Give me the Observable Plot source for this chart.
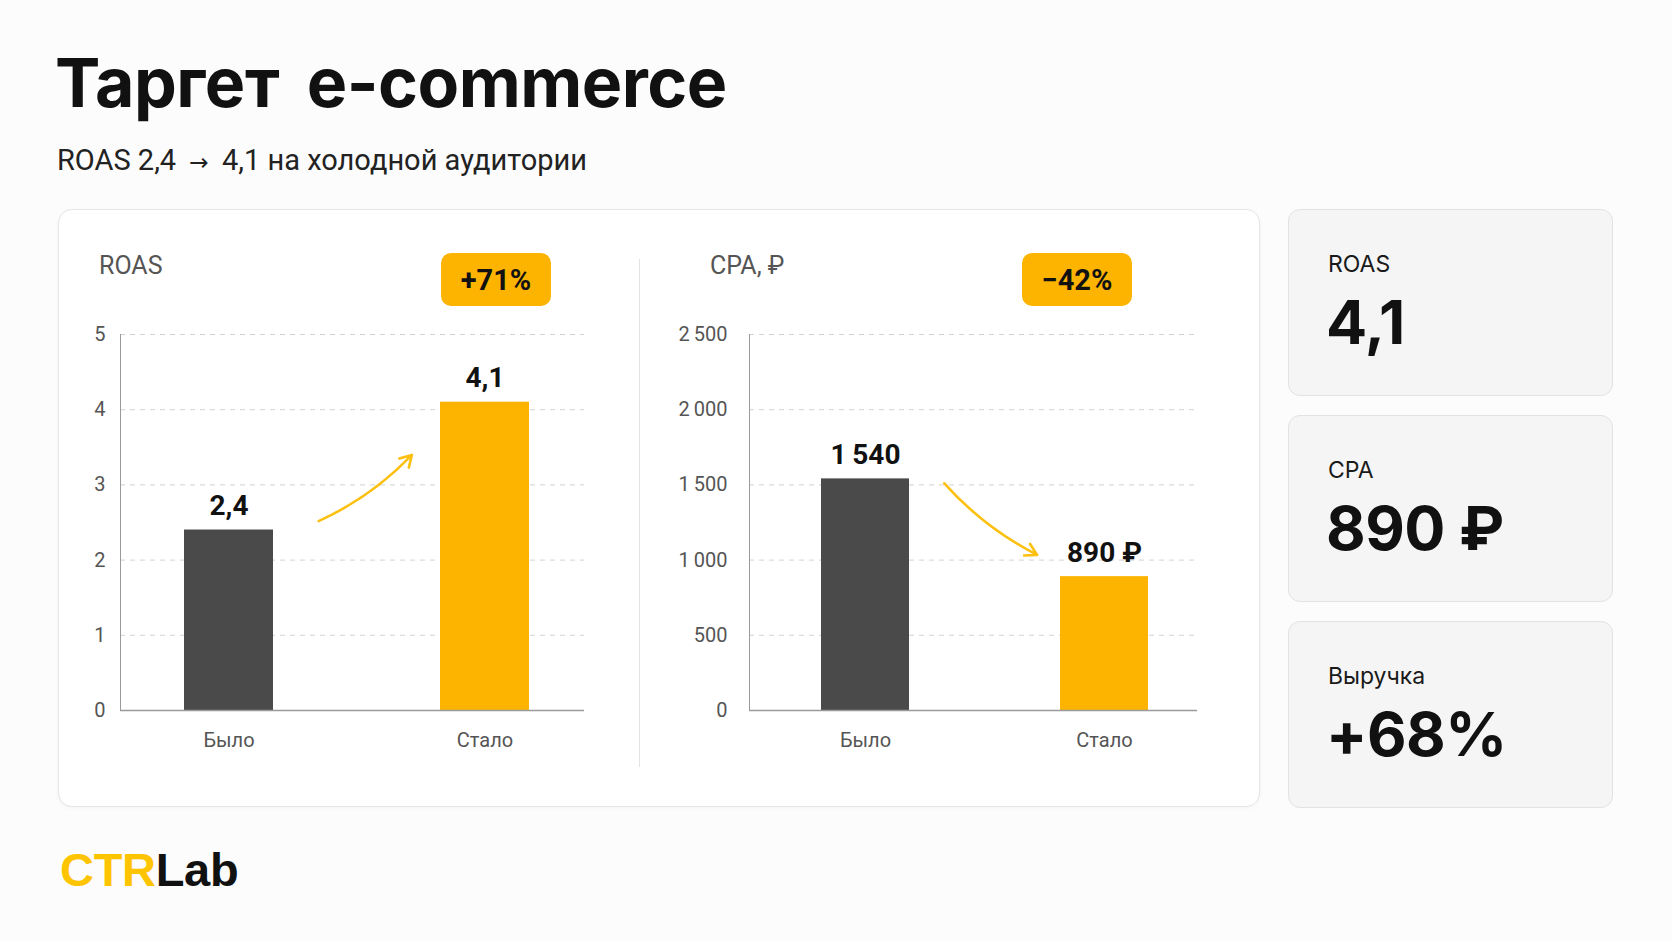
<!DOCTYPE html>
<html><head><meta charset="utf-8">
<script src="https://cdn.jsdelivr.net/npm/d3@7"></script>
<script src="https://cdn.jsdelivr.net/npm/@observablehq/plot@0.6"></script>
<style>
body{margin:0;background:#fcfcfc;width:1672px;height:941px;position:relative;overflow:hidden;font-family:Roboto,sans-serif}
.abs{position:absolute;line-height:1;white-space:nowrap}
.panel{position:absolute;left:58px;top:209px;width:1200px;height:596px;background:#fff;border:1px solid #e6e6e6;border-radius:14px;box-shadow:0 1px 4px rgba(0,0,0,0.04)}
.card{position:absolute;left:1288px;width:323px;height:185px;background:#f5f5f5;border:1px solid #e2e2e2;border-radius:12px}
.card .lab{position:absolute;left:39px;top:43px;font:400 23px Inter;color:#1a1a1a;line-height:1}
.card .val{position:absolute;left:37px;top:82px;font:700 61px Inter;color:#111;line-height:1;letter-spacing:-0.5px}
.badge{position:absolute;top:253px;width:110px;height:53px;background:#FDB400;border-radius:10px;font:700 29px Roboto;color:#111;display:flex;align-items:center;justify-content:center}
.ctitle{position:absolute;top:253px;font:400 25px Roboto;color:#555;line-height:1}
.chart{position:absolute;top:300px}
.arr{font-family:'DejaVu Sans',sans-serif;font-size:0.8em;margin:0 6px}
</style></head><body>
<div class="abs" id="title" style="left:55px;top:41px;font:700 68px Inter;color:#111;letter-spacing:-0.5px;word-spacing:12px"></div>
<div class="abs" id="subtitle" style="left:57px;top:143px;font:400 29px Roboto;color:#222"></div>
<div class="panel"></div>
<div class="abs" style="left:639px;top:259px;width:1px;height:508px;background:#e3e3e3"></div>
<div class="ctitle" id="t1" style="left:99px"></div>
<div class="ctitle" id="t2" style="left:710px"></div>
<div class="badge" id="b1" style="left:441px"></div>
<div class="badge" id="b2" style="left:1022px"></div>
<div class="chart" id="c1" style="left:60px"></div>
<div class="chart" id="c2" style="left:640px"></div>
<div id="cards"></div>
<div class="abs" id="logo" style="left:60px;top:842px;font:700 47px 'Liberation Sans',Arial,sans-serif;letter-spacing:-0.3px"><span style="color:#FFC400">CTR</span><span style="color:#111">Lab</span></div>
<script>
const titleText = "Таргет e-commerce";
const subtitleParts = ["ROAS 2,4", "→", "4,1 на холодной аудитории"];
const chartTitles = ["ROAS", "CPA, ₽"];
const badgeTexts = ["+71%", "−42%"];
const categories = ["Было", "Стало"];
const roasValues = [2.4, 4.1];
const cpaValues = [1540, 890];
const cpaSuffix = ["", " ₽"];
const roasTicks = [0, 1, 2, 3, 4, 5];
const cpaTicks = [0, 500, 1000, 1500, 2000, 2500];
const barColors = ["#4a4a4a", "#FDB400"];
const roasArrow = [{from: "Было", to: "Стало", y1: 2.19, y2: 5.14}];
const cpaArrow = [{from: "Было", to: "Стало", y1: 2660, y2: 866}];
const kpiLabels = ["ROAS", "CPA", "Выручка"];
const kpiValues = ["4,1", "890 ₽", "+68%"];

document.getElementById("title").textContent = titleText;
const sub = document.getElementById("subtitle");
subtitleParts.forEach((p, i) => {
  const s = document.createElement("span");
  if (i === 1) s.className = "arr";
  s.textContent = (i === 0 ? p + " " : i === 2 ? " " + p : p);
  sub.appendChild(s);
});
document.getElementById("t1").textContent = chartTitles[0];
document.getElementById("t2").textContent = chartTitles[1];
document.getElementById("b1").textContent = badgeTexts[0];
document.getElementById("b2").textContent = badgeTexts[1];

const cardsEl = document.getElementById("cards");
const cardTops = [209, 415, 621];
kpiLabels.forEach((l, i) => {
  const c = document.createElement("div");
  c.className = "card";
  c.style.top = cardTops[i] + "px";
  c.innerHTML = `<div class="lab"></div><div class="val"></div>`;
  c.querySelector(".lab").textContent = l;
  c.querySelector(".val").textContent = kpiValues[i];
  cardsEl.appendChild(c);
});

const ru = d3.formatLocale({decimal: ",", thousands: "\u2009", grouping: [3], currency: ["", " ₽"]});
const fmtRoas = ru.format(".1f");
const fmtCpa = ru.format(",");

function barChart(o) {
  const data = categories.map((c, i) => ({cat: c, v: o.values[i], label: o.labelFmt(o.values[i], i)}));
  return Plot.plot({
    width: o.width, height: 470,
    marginLeft: o.marginLeft, marginRight: o.marginRight, marginTop: 34, marginBottom: 60,
    style: {background: "transparent", color: "#555", fontFamily: "Roboto", overflow: "visible"},
    x: {domain: categories, paddingInner: o.paddingInner, paddingOuter: o.paddingOuter, align: o.align, label: null},
    y: {domain: o.domain, label: null},
    color: {domain: categories, range: barColors},
    marks: [
      Plot.gridY(o.ticks.filter(t => t > 0), {stroke: "#d2d2d2", strokeOpacity: 1, strokeDasharray: "5,5"}),
      Plot.frame({anchor: "left", stroke: "#9a9a9a"}),
      Plot.barY(data, {x: "cat", y: "v", fill: "cat"}),
      Plot.ruleY([0], {stroke: "#9a9a9a", strokeWidth: 1.5}),
      Plot.axisY(o.ticks, {tickSize: 0, tickPadding: o.tickPadding, tickFormat: o.tickFmt, fontSize: 20}),
      Plot.axisX({tickSize: 0, tickPadding: 22, fontSize: 20}),
      Plot.text(data, {x: "cat", y: "v", text: "label", dy: -24, fontSize: 28, fontWeight: 700, fill: "#111"}),
      Plot.arrow(o.arrow, {x1: "from", y1: "y1", x2: "to", y2: "y2", bend: o.bend,
        insetStart: o.insetStart, insetEnd: o.insetEnd, stroke: "#FCC010", strokeWidth: 2.6, headLength: 7.5})
    ]
  });
}

document.getElementById("c1").appendChild(barChart({
  values: roasValues, ticks: roasTicks, domain: [0, 5],
  tickFmt: d => String(d), labelFmt: v => fmtRoas(v),
  arrow: roasArrow, bend: -34.4, insetStart: 93, insetEnd: 150,
  width: 560, marginLeft: 60, marginRight: 36, paddingInner: 0.654, paddingOuter: 0.23, align: 0.54, tickPadding: 15
}));
document.getElementById("c2").appendChild(barChart({
  values: cpaValues, ticks: cpaTicks, domain: [0, 2500],
  tickFmt: d => fmtCpa(d), labelFmt: (v, i) => fmtCpa(v) + cpaSuffix[i],
  arrow: cpaArrow, bend: -34.3, insetStart: 190, insetEnd: 72,
  width: 590, marginLeft: 109, marginRight: 33, paddingInner: 0.633, paddingOuter: 0.252, align: 0.59, tickPadding: 22
}));
</script>
</body></html>
